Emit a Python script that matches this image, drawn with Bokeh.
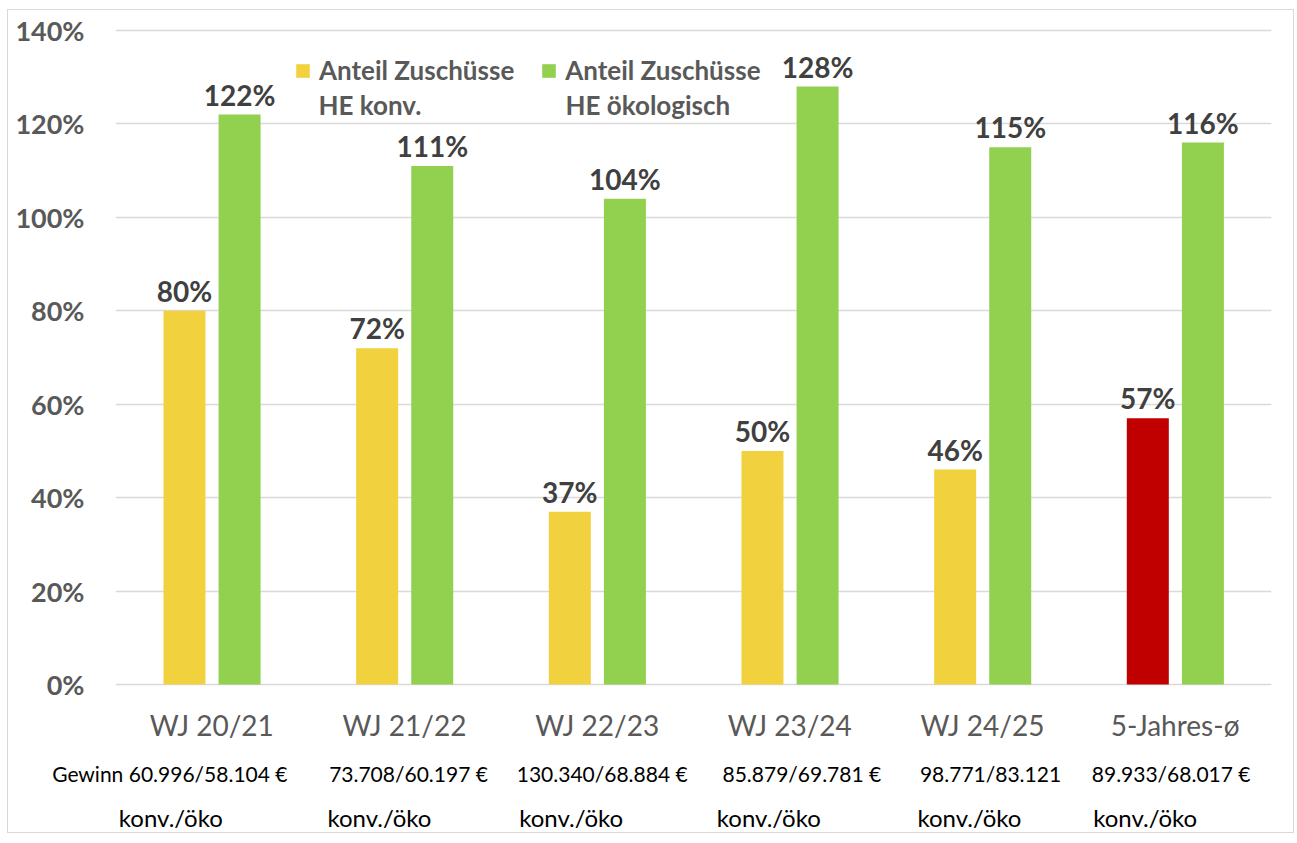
from bokeh.plotting import figure
from bokeh.models import Range1d, FixedTicker, ColumnDataSource, Legend, LegendItem, LinearAxis
from bokeh.core.properties import value
from bokeh.transform import dodge
from bokeh.embed import file_html
from bokeh.resources import INLINE

# ---- data ----
categories = ["WJ 20/21", "WJ 21/22", "WJ 22/23", "WJ 23/24", "WJ 24/25", "5-Jahres-ø"]
konv = [80, 72, 37, 50, 46, 57]
oeko = [122, 111, 104, 128, 115, 116]
gewinn = ["Gewinn 60.996/58.104 €", "73.708/60.197 €", "130.340/68.884 €",
          "85.879/69.781 €", "98.771/83.121", "89.933/68.017 €"]
sub = ["konv./öko", "konv./öko", "konv./öko", "konv./öko", "konv./öko", "konv./öko"]
y_ticks = [0, 20, 40, 60, 80, 100, 120, 140]
legend_line1 = ["Anteil Zuschüsse", "Anteil Zuschüsse"]
legend_line2 = ["HE konv.", "HE ökologisch"]

# ---- styling ----
YELLOW = "#f2d13f"
GREEN = "#92d050"
RED = "#c00000"
konv_colors = [YELLOW] * 5 + [RED]
FONT = "Lato"

# pixel geometry of the plot frame
PX_PER_PCT = 655 / 140.0
FRAME_TOP, ZERO_Y, FRAME_BOTTOM = 21, 685, 687
FRAME_LEFT, FRAME_RIGHT = 115, 1271
PX_PER_CAT = (FRAME_RIGHT - FRAME_LEFT) / 6.0
y_end = (ZERO_Y - FRAME_TOP) / PX_PER_PCT
y_start = -(FRAME_BOTTOM - ZERO_Y) / PX_PER_PCT

xc = [i + 0.5 for i in range(len(categories))]
gew_dx = [-42, 4, 5, 12, 8, -4]      # horizontal nudges of the text rows (px)
sub_dx = [-41, -25, -26, -21, -13, -30]

src = ColumnDataSource(dict(
    xc=xc,
    konv=konv,
    oeko=oeko,
    konv_lbl=[f"{v}%" for v in konv],
    oeko_lbl=[f"{v}%" for v in oeko],
    kcol=konv_colors,
))

p = figure(width=1287, height=824, output_backend="svg", toolbar_location=None,
           x_range=Range1d(0, 6), y_range=Range1d(y_start, y_end),
           x_axis_type=None, min_border_left=FRAME_LEFT - 8, min_border_right=24,
           min_border_top=FRAME_TOP - 10, min_border_bottom=0)
p.outline_line_color = None
p.background_fill_color = "white"
p.border_fill_color = "white"
p.styles = {"border": "1px solid #d9d9d9", "margin-top": "9px", "margin-left": "7px"}

# y axis
p.yaxis.ticker = FixedTicker(ticks=y_ticks)
p.yaxis.major_label_overrides = {t: f"{t}%" for t in y_ticks}
p.yaxis.axis_line_color = None
p.yaxis.major_tick_line_color = None
p.yaxis.minor_tick_line_color = None
p.yaxis.major_tick_out = 0
p.yaxis.major_tick_in = 0
p.yaxis.major_label_standoff = 31
p.yaxis.major_label_text_font = FONT
p.yaxis.major_label_text_font_style = "bold"
p.yaxis.major_label_text_font_size = "27px"
p.yaxis.major_label_text_color = "#595959"

p.ygrid.ticker = FixedTicker(ticks=y_ticks)
p.ygrid.grid_line_color = "#d9d9d9"
p.ygrid.grid_line_width = 1.5


def text_axis(labels, dx, size, color, standoff):
    ticks = [round(x + d / PX_PER_CAT, 4) for x, d in zip(xc, dx)]
    ax = LinearAxis(ticker=FixedTicker(ticks=ticks),
                    major_label_overrides={t: s for t, s in zip(ticks, labels)})
    ax.axis_line_color = None
    ax.major_tick_line_color = None
    ax.minor_tick_line_color = None
    ax.major_tick_out = 0
    ax.major_tick_in = 0
    ax.major_label_standoff = standoff
    ax.major_label_text_font = FONT
    ax.major_label_text_font_size = size
    ax.major_label_text_color = color
    p.add_layout(ax, "below")
    return ax


text_axis(categories, [0] * 6, "28px", "#595959", 21)
text_axis(gewinn, gew_dx, "21px", "#000000", 16)
text_axis(sub, sub_dx, "24px", "#000000", 14)

# bars
BW = 0.218
rk = p.vbar(x=dodge("xc", -0.142), top="konv", bottom=0, width=BW, source=src,
            fill_color="kcol", line_color=None)
ro = p.vbar(x=dodge("xc", 0.144), top="oeko", bottom=0, width=BW, source=src,
            fill_color=GREEN, line_color=None)

# value labels
for xo, col, lbl in [(-0.142, "konv", "konv_lbl"), (0.144, "oeko", "oeko_lbl")]:
    p.text(x=dodge("xc", xo), y=col, text=lbl, source=src, text_align="center",
           text_baseline="alphabetic", y_offset=-20, text_font=value(FONT),
           text_font_style="bold", text_font_size="28px", text_color="#404040")

# legend (first line via Legend, second line as text under each label)
LEG_FONT = "26px"
legend = Legend(items=[LegendItem(label=legend_line1[0], renderers=[rk], index=0),
                       LegendItem(label=legend_line1[1], renderers=[ro], index=0)],
                orientation="horizontal", location=(294 - FRAME_LEFT, FRAME_BOTTOM - 87))
legend.border_line_color = None
legend.background_fill_alpha = 0
legend.padding = 0
legend.margin = 0
legend.spacing = 26
legend.glyph_width = 17
legend.glyph_height = 17
legend.label_standoff = 8
legend.label_height = 31
legend.label_text_font = FONT
legend.label_text_font_style = "bold"
legend.label_text_font_size = LEG_FONT
legend.label_text_color = "#595959"
p.add_layout(legend)

line2_x = [(318 - FRAME_LEFT) / PX_PER_CAT, (565 - FRAME_LEFT) / PX_PER_CAT]
line2_y = (ZERO_Y - 105) / PX_PER_PCT
p.text(x=line2_x, y=[line2_y, line2_y], text=legend_line2, text_align="left",
       text_baseline="middle", text_font=value(FONT), text_font_style="bold",
       text_font_size=LEG_FONT, text_color="#595959")

open("out.html", "w").write(file_html(p, INLINE))
